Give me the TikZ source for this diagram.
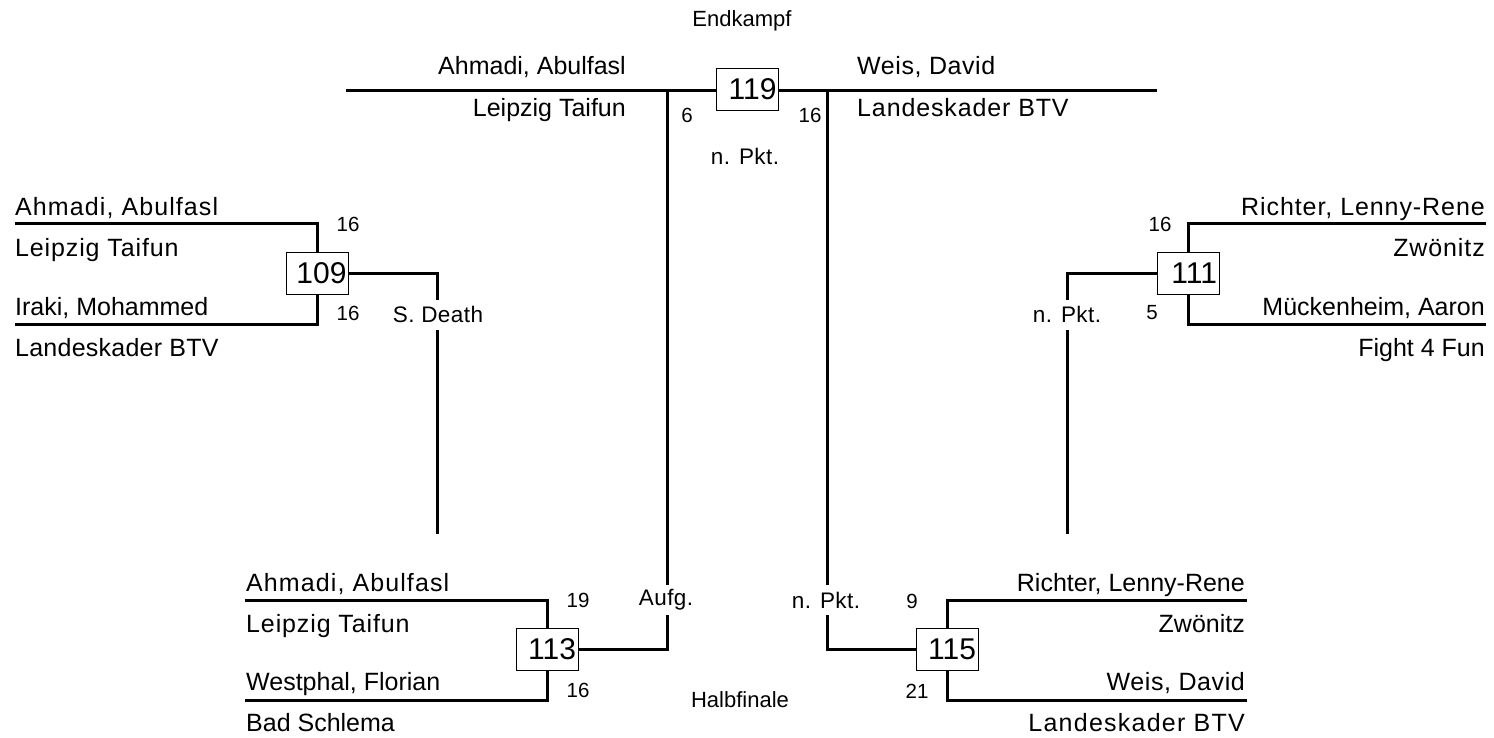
\documentclass[tikz,border=0pt]{standalone}
\usepackage{fontspec}
\setmainfont{Liberation Sans}
\begin{document}
\begin{tikzpicture}[x=1pt,y=-1pt,
  conn/.style={line width=3pt},
  matchbox/.style={draw, line width=1pt, fill=white, text width=58pt, align=right,
    inner xsep=2pt, inner ysep=0pt, minimum height=42pt, font=\fontsize{30}{30}\selectfont},
  namew/.style={anchor=base west, inner sep=0pt, font=\fontsize{25}{27}\selectfont},
  namee/.style={anchor=base east, inner sep=0pt, font=\fontsize{25}{27}\selectfont},
  score/.style={inner sep=0pt, font=\fontsize{20.5}{22}\selectfont},
  lbl/.style={fill=white, inner xsep=2pt, inner ysep=0pt, minimum height=30pt, font=\fontsize{22.5}{24}\selectfont\addfontfeature{LetterSpace=2}},
  title/.style={inner sep=0pt, font=\fontsize{22}{24}\selectfont}]
\useasboundingbox (0,0) rectangle (1494,737);
% match boxes
\node[matchbox] (b119) at (747.5,89) {119};
\node[matchbox] (b109) at (317.5,273) {109};
\node[matchbox] (b111) at (1188,273) {111};
\node[matchbox] (b113) at (547,649) {113};
\node[matchbox] (b115) at (947,649) {115};
% line ends
\coordinate (t119l) at (346,90); \coordinate (t119r) at (1157,90);
\coordinate (a109) at (15,223.5); \coordinate (c109) at (15,324);
\coordinate (a111) at (1486,223.5); \coordinate (c111) at (1486,324);
\coordinate (a113) at (245,600); \coordinate (c113) at (245,700);
\coordinate (a115) at (1247,600); \coordinate (c115) at (1247,700);
\coordinate (e109) at (437,534); \coordinate (e111) at (1067,534);
\coordinate (e113) at (667,90); \coordinate (e115) at (827,90);
% connectors
\draw[conn] (t119l) -- (t119l -| b119.west);
\draw[conn] (b119.east |- t119r) -- (t119r);
\draw[conn] (b109.north) |- (a109);
\draw[conn] (b109.south) |- (c109);
\draw[conn] (b109.east) -| (e109);
\draw[conn] (b111.north) |- (a111);
\draw[conn] (b111.south) |- (c111);
\draw[conn] (b111.west) -| (e111);
\draw[conn] (b113.north) |- (a113);
\draw[conn] (b113.south) |- (c113);
\draw[conn] (b113.east) -| (e113);
\draw[conn] (b115.north) |- (a115);
\draw[conn] (b115.south) |- (c115);
\draw[conn] (b115.west) -| (e115);
% titles
\node[title] (tEnd) at (742,21) {Endkampf};
\node[title] (tHalb) at (740,700) {Halbfinale};
% final
\node[namee] (f1) at (626,74) {Ahmadi, Abulfasl};
\node[namee] (f2) at (626,116) {Leipzig Taifun};
\node[namew] (f3) at (857,74) {\addfontfeature{LetterSpace=2.3}Weis, David};
\node[namew] (f4) at (857,116) {\addfontfeature{LetterSpace=3.5}Landeskader BTV};
\node[score] (fs1) at (687,115) {6};
\node[score] (fs2) at (810,115) {16};
\node[title,font=\fontsize{22.5}{24}\selectfont\addfontfeature{LetterSpace=2}] (fl) at (745,156) {n. Pkt.};
% 109
\node[namew] (l1) at (15,215) {\addfontfeature{LetterSpace=4.4}Ahmadi, Abulfasl};
\node[namew] (l2) at (15,256) {\addfontfeature{LetterSpace=3.5}Leipzig Taifun};
\node[namew] (l3) at (15,315) {Iraki, Mohammed};
\node[namew] (l4) at (15,356) {\addfontfeature{LetterSpace=1}Landeskader BTV};
\node[score] (ls1) at (348,224) {16};
\node[score] (ls2) at (348,313) {16};
\node[lbl] (ll) at (438,314.5) {S. Death};
% 111
\node[namee] (r1) at (1485,215) {\addfontfeature{LetterSpace=3.7}Richter, Lenny-Rene};
\node[namee] (r2) at (1485,256) {\addfontfeature{LetterSpace=3.6}Zwönitz};
\node[namee] (r3) at (1485,315) {Mückenheim, Aaron};
\node[namee] (r4) at (1485,356) {Fight 4 Fun};
\node[score] (rs1) at (1160,224) {16};
\node[score] (rs2) at (1152,313) {5};
\node[lbl] (rl) at (1067,314.5) {n. Pkt.};
% 113
\node[namew] (m1) at (246,591.5) {\addfontfeature{LetterSpace=4.4}Ahmadi, Abulfasl};
\node[namew] (m2) at (246,632) {\addfontfeature{LetterSpace=3.5}Leipzig Taifun};
\node[namew] (m3) at (246,690.5) {Westphal, Florian};
\node[namew] (m4) at (246,731) {Bad Schlema};
\node[score] (ms1) at (578,600) {19};
\node[score] (ms2) at (578,690) {16};
\node[lbl] (ml) at (666,600) {Aufg.};
% 115
\node[namee] (n1) at (1245,591.5) {Richter, Lenny-Rene};
\node[namee] (n2) at (1245,632) {Zwönitz};
\node[namee] (n3) at (1245,690.5) {\addfontfeature{LetterSpace=2.3}Weis, David};
\node[namee] (n4) at (1245,731) {\addfontfeature{LetterSpace=5}Landeskader BTV};
\node[score] (ns1) at (912,601) {9};
\node[score] (ns2) at (917,691) {21};
\node[lbl] (nl) at (826,600) {n. Pkt.};
\end{tikzpicture}
\end{document}
